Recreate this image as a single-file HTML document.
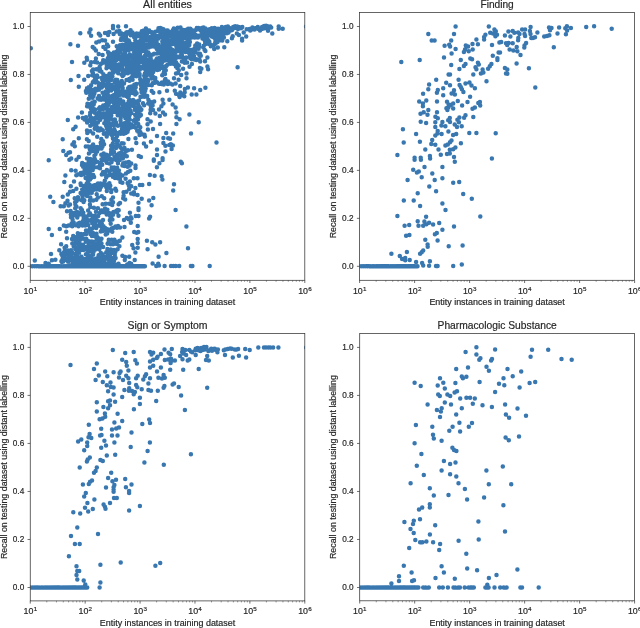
<!DOCTYPE html>
<html><head><meta charset="utf-8"><title>Scatter</title>
<style>html,body{margin:0;padding:0;background:#fff;}body{width:640px;height:628px;overflow:hidden;font-family:"Liberation Sans",sans-serif;}svg{display:block;will-change:transform;}</style></head>
<body>
<svg width="640" height="628" viewBox="0 0 640 628" font-family="Liberation Sans, sans-serif" fill="#262626">
<style>text{stroke:#262626;stroke-width:0.18px;}</style>
<rect width="640" height="628" fill="#fff"/>
<clipPath id="c0"><rect x="30.25" y="12.6" width="274.55" height="267.70"/></clipPath>
<path clip-path="url(#c0)" d="M80.3 33.3h0M90.5 29.4h0M89.3 32.5h0M91.1 35.7h0M70.4 44.2h0M78.0 45.7h0M98.8 33.7h0M100.2 35.5h0M105.0 33.1h0M108.2 32.5h0M108.1 34.9h0M109.4 31.9h0M113.0 25.9h0M113.0 28.3h0M118.2 26.5h0M113.6 33.9h0M116.6 31.5h0M119.4 31.1h0M119.8 33.9h0M96.3 42.5h0M99.1 41.5h0M102.2 40.2h0M105.0 40.4h0M113.0 41.7h0M92.7 47.0h0M94.3 48.6h0M95.9 50.6h0M107.0 44.6h0M103.4 47.0h0M105.4 49.0h0M108.2 46.2h0M98.7 54.0h0M102.6 55.0h0M86.7 57.8h0M87.1 59.8h0M95.9 58.6h0M126.0 26.3h0M200.2 54.2h0M207.4 57.4h0M214.2 49.0h0M217.8 47.4h0M243.7 32.5h0M236.9 33.5h0M238.9 35.1h0M246.2 36.4h0M232.7 36.3h0M231.9 38.3h0M242.1 38.7h0M242.1 40.6h0M227.3 41.2h0M224.3 47.3h0M278.7 26.4h0M278.7 28.8h0M282.7 28.8h0M268.0 30.7h0M272.3 33.6h0M306.1 26.6h0M237.6 67.3h0M72.0 62.0h0M84.3 62.8h0M78.5 75.9h0M70.8 79.9h0M84.2 79.8h0M78.8 86.7h0M88.2 75.9h0M90.3 65.2h0M165.4 79.1h0M163.4 73.9h0M165.8 70.3h0M167.0 90.7h0M159.4 92.2h0M162.6 99.8h0M169.4 99.8h0M163.4 103.4h0M161.4 106.2h0M159.0 109.4h0M167.8 83.9h0M140.5 96.8h0M181.9 61.6h0M184.7 62.8h0M187.1 62.4h0M191.9 64.0h0M189.5 66.8h0M183.1 68.8h0M177.2 68.0h0M178.8 70.3h0M178.0 73.1h0M176.0 73.5h0M181.2 75.1h0M186.5 73.4h0M186.5 78.3h0M174.0 78.2h0M178.6 79.7h0M200.2 61.6h0M205.0 61.2h0M199.9 68.0h0M201.4 68.8h0M200.2 72.1h0M207.4 66.4h0M208.1 69.2h0M196.3 60.0h0M175.6 83.5h0M172.4 84.5h0M170.0 83.5h0M180.2 85.9h0M187.9 87.5h0M184.9 89.1h0M194.1 88.3h0M205.4 87.7h0M200.2 89.9h0M174.8 90.7h0M176.0 93.8h0M180.3 92.6h0M184.7 92.2h0M178.8 95.0h0M181.9 95.0h0M184.3 96.2h0M179.6 97.0h0M191.7 94.5h0M196.4 94.5h0M172.6 104.4h0M175.6 107.6h0M81.9 112.4h0M75.6 126.7h0M73.2 129.3h0M78.8 138.3h0M74.0 142.2h0M72.4 144.6h0M74.8 146.2h0M78.8 157.0h0M76.4 159.8h0M70.0 152.2h0M71.2 158.6h0M150.2 113.2h0M155.4 113.6h0M159.8 116.0h0M163.0 112.4h0M165.0 114.6h0M153.0 110.0h0M147.5 119.2h0M150.7 121.5h0M147.5 124.2h0M160.1 123.9h0M147.9 129.5h0M153.0 129.1h0M157.0 136.1h0M166.2 133.1h0M163.4 137.9h0M168.2 138.3h0M150.9 141.7h0M163.4 143.0h0M165.4 145.8h0M169.4 145.0h0M143.9 143.4h0M146.1 146.5h0M136.3 143.0h0M135.5 138.3h0M128.4 139.1h0M157.0 149.4h0M165.5 151.6h0M157.0 155.0h0M138.7 156.0h0M140.9 157.1h0M162.6 158.2h0M153.8 159.4h0M131.9 149.8h0M176.4 112.4h0M189.4 114.5h0M176.4 117.2h0M179.6 119.2h0M198.7 122.3h0M176.4 124.0h0M173.2 133.4h0M191.0 133.4h0M170.0 138.7h0M216.5 142.5h0M170.8 144.2h0M172.9 145.5h0M171.6 149.0h0M180.8 161.8h0M181.9 163.3h0M174.0 184.2h0M173.2 190.4h0M175.6 210.0h0M115.4 188.7h0M116.2 190.7h0M113.0 197.4h0M111.4 199.8h0M102.6 204.2h0M105.8 203.8h0M109.4 203.8h0M112.2 205.0h0M113.0 202.2h0M118.6 204.2h0M120.0 203.0h0M104.2 198.2h0M101.8 196.2h0M97.9 197.4h0M96.7 194.2h0M96.3 199.8h0M93.1 200.6h0M90.3 197.4h0M89.9 200.6h0M89.9 204.6h0M90.3 207.0h0M93.9 207.8h0M97.9 208.2h0M105.0 208.6h0M107.4 209.8h0M117.8 210.0h0M71.2 170.3h0M75.6 170.8h0M74.0 181.5h0M70.8 186.3h0M76.4 188.7h0M73.2 191.1h0M70.0 191.8h0M70.0 204.6h0M123.2 163.2h0M126.0 162.4h0M128.8 162.0h0M131.2 163.6h0M124.4 166.0h0M127.6 166.8h0M129.6 165.6h0M122.4 165.6h0M135.5 165.6h0M135.5 168.0h0M130.3 170.8h0M128.0 171.9h0M126.0 173.5h0M122.4 175.5h0M120.0 174.3h0M125.6 178.7h0M120.0 179.1h0M122.4 182.7h0M120.4 181.9h0M133.8 178.2h0M137.5 178.2h0M149.9 174.9h0M154.6 175.7h0M161.6 176.3h0M162.4 179.5h0M153.8 160.8h0M159.4 163.2h0M156.9 167.3h0M162.6 160.0h0M139.9 184.9h0M142.3 184.9h0M149.1 184.1h0M129.9 181.5h0M127.6 183.1h0M128.8 185.5h0M131.2 186.3h0M129.2 189.1h0M135.4 187.9h0M123.6 192.2h0M126.4 191.8h0M131.2 193.4h0M133.9 192.2h0M133.9 194.2h0M137.5 195.0h0M123.6 195.8h0M123.2 198.2h0M125.2 199.4h0M141.7 198.8h0M138.5 202.8h0M138.5 208.2h0M153.3 198.1h0M149.1 200.4h0M151.6 205.2h0M89.5 213.6h0M103.8 229.5h0M109.8 220.3h0M110.6 218.0h0M114.2 251.4h0M109.0 252.6h0M119.4 246.2h0M119.8 240.7h0M113.0 244.2h0M94.3 235.9h0M129.9 212.8h0M135.8 216.0h0M138.5 216.0h0M130.8 217.2h0M126.8 218.0h0M124.0 219.9h0M128.8 219.2h0M131.5 218.4h0M130.8 222.7h0M150.1 216.8h0M149.1 218.4h0M120.0 227.5h0M124.5 226.9h0M137.7 225.9h0M134.2 232.1h0M136.7 232.7h0M138.3 232.1h0M122.4 237.5h0M137.7 239.1h0M137.7 243.0h0M146.9 240.7h0M152.2 242.2h0M155.4 244.6h0M160.1 242.2h0M132.2 245.0h0M133.5 248.2h0M137.7 247.8h0M147.6 249.2h0M135.4 252.4h0M166.4 253.0h0M122.4 255.8h0M125.2 257.0h0M129.2 256.8h0M158.6 256.8h0M134.7 260.0h0M124.8 260.0h0M138.5 210.0h0M114.2 260.3h0M109.0 262.7h0M113.0 262.3h0M30.8 48.2h0M67.8 120.0h0M62.7 139.3h0M63.3 151.1h0M68.6 152.7h0M66.2 154.9h0M48.7 160.3h0M69.4 159.7h0M65.4 175.6h0M64.3 182.0h0M50.2 196.8h0M62.7 196.8h0M53.4 202.0h0M60.6 206.3h0M63.8 206.3h0M67.5 200.8h0M65.4 203.2h0M68.6 205.5h0M67.8 194.4h0M67.0 211.2h0M48.7 229.1h0M51.9 235.0h0M59.8 229.1h0M63.8 225.5h0M66.2 226.3h0M68.6 225.5h0M66.2 231.8h0M67.0 238.2h0M61.1 244.3h0M66.2 246.2h0M64.6 247.8h0M59.3 250.2h0M51.0 254.1h0M61.4 254.1h0M63.0 257.3h0M67.8 254.1h0M68.6 251.0h0M34.8 260.5h0M45.5 262.9h0M51.9 260.2h0M55.4 259.7h0M61.4 261.3h0M65.4 259.7h0M68.6 258.9h0M48.7 263.7h0M186.4 226.6h0M188.0 248.2h0M129.6 262.9h0M131.2 263.7h0M127.2 264.5h0M152.6 263.4h0M156.3 266.1h0M158.2 263.7h0M159.0 265.6h0M164.6 266.1h0M171.0 266.1h0M173.3 266.1h0M175.7 266.1h0M179.2 266.1h0M190.9 266.1h0M192.4 266.1h0M209.7 266.1h0M30.2 266.3h0M32.5 266.3h0M34.6 266.3h0M36.5 266.3h0M38.3 266.3h0M39.9 266.3h0M41.5 266.3h0M42.9 266.3h0M44.3 266.3h0M45.6 266.3h0M46.8 266.3h0M47.9 266.3h0M49.0 266.3h0M50.1 266.3h0M51.1 266.3h0M52.1 266.3h0M53.0 266.3h0M53.9 266.3h0M54.8 266.3h0M55.6 266.3h0M56.5 266.3h0M57.2 266.3h0M58.0 266.3h0M58.7 266.3h0M59.4 266.3h0M60.8 266.3h0M62.1 266.3h0M63.3 266.3h0M64.5 266.3h0M65.6 266.3h0M66.6 266.3h0M67.7 266.3h0M68.6 266.3h0M69.6 266.3h0M70.5 266.3h0M71.3 266.3h0M72.2 266.3h0M73.0 266.3h0M73.8 266.3h0M74.5 266.3h0M75.2 266.3h0M76.0 266.3h0M77.0 266.3h0M78.0 266.3h0M78.9 266.3h0M79.8 266.3h0M80.7 266.3h0M81.6 266.3h0M82.4 266.3h0M83.2 266.3h0M83.9 266.3h0M84.7 266.3h0M85.4 266.3h0M86.3 266.3h0M87.2 266.3h0M88.1 266.3h0M88.9 266.3h0M89.7 266.3h0M90.5 266.3h0M91.2 266.3h0M92.0 266.3h0M92.7 266.3h0M93.5 266.3h0M94.3 266.3h0M95.2 266.3h0M95.9 266.3h0M96.7 266.3h0M97.4 266.3h0M98.1 266.3h0M98.9 266.3h0M99.7 266.3h0M100.5 266.3h0M101.2 266.3h0M101.9 266.3h0M102.7 266.3h0M103.5 266.3h0M104.3 266.3h0M105.0 266.3h0M105.7 266.3h0M106.5 266.3h0M107.3 266.3h0M108.0 266.3h0M108.8 266.3h0M109.5 266.3h0M110.3 266.3h0M111.0 266.3h0M111.8 266.3h0M112.5 266.3h0M113.3 266.3h0M114.0 266.3h0M114.7 266.3h0M115.4 266.3h0M116.2 266.3h0M116.9 266.3h0M117.6 266.3h0M118.3 266.3h0M119.0 266.3h0M119.8 266.3h0M120.5 266.3h0M121.2 266.3h0M122.0 266.3h0M122.7 266.3h0M123.4 266.3h0M124.1 266.3h0M124.8 266.3h0M125.5 266.3h0M126.3 266.3h0M127.0 266.3h0M127.7 266.3h0M128.4 266.3h0M129.2 266.3h0M129.9 266.3h0M130.6 266.3h0M131.3 266.3h0M132.0 266.3h0M132.8 266.3h0M133.5 266.3h0M134.2 266.3h0M134.9 266.3h0M135.6 266.3h0M136.3 266.3h0M137.0 266.3h0M137.7 266.3h0M138.5 266.3h0M139.2 266.3h0M139.9 266.3h0M140.6 266.3h0M141.3 266.3h0M142.0 266.3h0M142.7 266.3h0M143.4 266.3h0M144.2 266.3h0M144.9 266.3h0M120.0 45.2h0M116.7 46.3h0M117.9 47.4h0M118.0 48.9h0M119.2 49.1h0M116.6 51.8h0M118.0 50.1h0M108.1 52.3h0M109.7 53.6h0M112.8 53.8h0M113.9 52.6h0M116.5 52.5h0M108.8 54.4h0M110.4 55.5h0M113.3 54.8h0M115.6 56.0h0M118.1 55.3h0M107.8 58.2h0M109.2 56.6h0M113.0 58.2h0M114.7 56.5h0M118.0 57.1h0M108.4 59.4h0M110.1 59.7h0M113.5 59.0h0M116.4 60.0h0M118.4 58.9h0M145.9 28.4h0M158.5 28.2h0M160.2 28.0h0M162.1 28.8h0M130.6 30.3h0M143.8 30.6h0M144.5 30.5h0M148.3 30.4h0M149.2 30.5h0M158.4 29.3h0M160.9 30.4h0M163.4 29.3h0M166.7 30.4h0M167.7 30.6h0M126.3 32.5h0M127.5 32.3h0M130.4 32.4h0M132.5 32.6h0M141.8 31.3h0M144.1 31.9h0M146.5 32.6h0M147.9 32.5h0M151.0 32.0h0M153.7 32.5h0M155.4 31.8h0M158.8 31.1h0M160.5 32.1h0M161.7 32.1h0M165.2 32.7h0M166.8 32.8h0M169.5 31.9h0M120.7 33.1h0M122.7 34.1h0M124.3 34.5h0M126.7 33.9h0M131.0 33.8h0M133.7 34.0h0M136.7 33.5h0M139.0 33.7h0M140.7 33.5h0M143.0 34.8h0M145.6 34.4h0M147.3 33.6h0M152.4 34.4h0M153.7 34.3h0M160.5 33.3h0M164.5 34.1h0M166.3 34.4h0M169.0 34.1h0M123.8 36.1h0M126.1 35.4h0M130.8 35.2h0M132.1 35.1h0M135.4 36.6h0M137.5 35.7h0M140.1 36.4h0M142.0 35.5h0M143.8 35.8h0M146.1 35.8h0M152.5 35.2h0M156.2 36.0h0M158.7 35.8h0M159.4 35.7h0M162.7 36.7h0M165.7 35.9h0M167.0 35.2h0M169.7 35.4h0M121.4 38.2h0M123.9 38.7h0M126.2 38.5h0M134.2 37.3h0M135.3 38.4h0M143.2 38.3h0M145.2 38.7h0M147.2 38.7h0M150.3 37.0h0M151.3 38.2h0M155.1 37.1h0M156.5 38.3h0M158.5 38.5h0M161.4 37.1h0M163.5 38.0h0M165.9 38.2h0M167.7 38.4h0M120.9 40.1h0M123.7 39.7h0M125.5 40.4h0M128.8 40.4h0M135.3 40.5h0M140.4 40.5h0M142.0 39.5h0M144.0 40.6h0M146.2 40.2h0M148.9 40.6h0M151.6 39.5h0M152.4 39.5h0M155.5 40.0h0M163.1 40.5h0M165.0 39.5h0M167.8 40.4h0M169.8 40.6h0M127.7 41.4h0M129.4 42.2h0M136.6 41.8h0M137.7 42.4h0M141.2 41.4h0M143.1 42.6h0M149.3 41.3h0M151.6 42.2h0M154.2 42.0h0M156.6 41.9h0M162.3 41.6h0M163.0 42.1h0M166.5 41.2h0M168.5 41.6h0M122.6 44.7h0M126.4 43.8h0M128.2 43.4h0M130.8 43.7h0M133.4 44.3h0M135.5 44.7h0M136.8 43.0h0M139.0 43.3h0M141.1 43.0h0M144.2 44.5h0M146.4 44.7h0M149.5 43.1h0M151.2 43.7h0M152.7 44.7h0M155.2 44.0h0M158.2 44.7h0M162.5 43.2h0M165.7 44.8h0M166.7 43.0h0M169.0 43.6h0M120.7 46.6h0M122.9 45.0h0M125.1 46.2h0M127.2 46.7h0M128.4 45.2h0M134.1 45.5h0M136.3 46.3h0M137.7 45.5h0M140.3 45.2h0M143.0 45.3h0M144.8 45.2h0M147.9 45.0h0M150.3 45.3h0M151.4 46.6h0M154.0 46.6h0M157.5 46.5h0M158.4 45.8h0M160.7 46.6h0M164.3 46.1h0M165.9 45.6h0M168.9 45.8h0M121.4 47.2h0M123.0 47.0h0M126.1 47.9h0M127.4 48.5h0M129.9 47.7h0M132.0 47.4h0M135.6 47.5h0M136.7 47.8h0M139.2 48.6h0M141.2 48.7h0M143.3 48.6h0M146.8 47.3h0M148.7 47.5h0M156.6 48.6h0M157.2 47.5h0M161.0 47.0h0M163.0 47.5h0M165.7 47.0h0M167.7 47.6h0M168.8 47.0h0M120.6 49.9h0M121.7 49.7h0M125.3 49.3h0M127.0 49.2h0M128.6 50.3h0M131.9 49.3h0M133.0 49.1h0M136.3 49.8h0M138.0 49.3h0M140.9 50.2h0M143.6 50.0h0M144.8 49.0h0M156.8 49.0h0M159.8 49.8h0M162.1 49.4h0M163.1 50.4h0M165.8 49.2h0M168.1 50.0h0M120.3 51.9h0M125.1 52.2h0M134.2 52.5h0M138.1 51.8h0M139.6 51.9h0M141.9 51.0h0M145.0 51.3h0M145.9 51.1h0M148.3 52.4h0M158.1 51.9h0M160.6 51.1h0M163.2 52.2h0M164.0 51.1h0M167.1 51.8h0M169.1 51.1h0M122.5 54.5h0M124.0 54.0h0M129.8 54.6h0M134.4 53.9h0M135.9 54.6h0M138.9 53.5h0M140.2 53.5h0M145.8 54.6h0M148.2 54.5h0M149.1 53.9h0M153.0 54.6h0M154.1 53.7h0M157.0 53.6h0M159.2 53.0h0M161.3 53.8h0M162.8 53.2h0M166.8 54.3h0M169.1 54.1h0M121.7 56.5h0M124.1 55.0h0M126.0 55.4h0M128.4 55.4h0M130.4 56.6h0M132.9 55.4h0M135.0 55.7h0M138.1 55.4h0M139.2 56.1h0M145.0 55.8h0M148.8 55.2h0M150.4 55.1h0M162.7 56.1h0M164.3 56.2h0M167.1 55.9h0M169.7 55.8h0M121.8 57.8h0M124.4 58.0h0M126.0 57.5h0M129.8 57.3h0M131.6 57.8h0M133.4 58.7h0M135.7 58.3h0M137.8 57.0h0M141.4 57.7h0M142.2 57.6h0M145.2 58.2h0M150.7 58.2h0M157.0 58.4h0M159.7 57.8h0M161.8 58.2h0M164.2 57.8h0M166.5 58.2h0M169.1 57.1h0M121.8 58.9h0M123.9 60.0h0M128.2 59.6h0M132.8 59.6h0M137.7 59.4h0M139.3 59.9h0M141.6 59.5h0M146.4 59.7h0M148.2 59.4h0M150.4 59.9h0M156.4 59.5h0M161.1 59.3h0M164.0 59.0h0M167.3 59.8h0M173.8 28.5h0M177.7 27.8h0M180.5 27.6h0M188.1 28.7h0M190.2 28.8h0M196.8 28.1h0M198.4 28.1h0M201.9 27.9h0M203.6 27.6h0M205.4 28.6h0M211.8 28.2h0M214.6 28.1h0M173.0 30.0h0M173.9 30.6h0M176.5 29.2h0M181.5 30.0h0M183.3 30.1h0M185.4 29.9h0M188.6 29.2h0M190.5 29.1h0M192.9 30.6h0M195.4 30.3h0M198.1 29.2h0M200.8 30.3h0M201.5 30.5h0M204.3 29.3h0M207.6 30.0h0M209.6 29.3h0M211.9 29.1h0M213.2 29.7h0M215.1 30.1h0M217.8 29.6h0M171.5 31.8h0M176.4 32.0h0M178.8 32.6h0M179.8 32.4h0M182.4 32.4h0M185.3 32.5h0M186.6 31.7h0M190.0 32.7h0M192.2 31.1h0M194.3 31.2h0M201.4 31.5h0M202.8 31.8h0M206.3 32.1h0M207.2 31.1h0M209.6 32.5h0M212.0 32.0h0M214.5 32.2h0M216.9 31.3h0M170.3 34.5h0M173.1 33.0h0M176.9 34.6h0M179.7 33.1h0M180.9 34.5h0M184.1 33.7h0M186.1 33.3h0M189.0 33.7h0M191.4 34.1h0M192.2 33.6h0M194.8 34.6h0M202.1 34.0h0M204.3 33.6h0M205.9 34.0h0M208.8 33.0h0M211.3 34.8h0M212.9 33.3h0M216.3 33.5h0M217.9 33.9h0M170.7 36.0h0M173.5 36.7h0M176.6 35.0h0M178.2 36.4h0M181.0 36.4h0M182.9 36.1h0M184.7 35.5h0M187.8 36.6h0M190.3 36.2h0M191.5 36.4h0M194.6 35.9h0M196.7 35.6h0M198.8 35.7h0M200.3 35.6h0M203.0 36.8h0M205.6 35.6h0M207.5 35.4h0M210.0 35.2h0M211.7 36.6h0M214.8 35.8h0M217.3 35.5h0M218.8 35.1h0M172.7 38.0h0M175.4 37.6h0M177.7 38.0h0M178.4 37.3h0M181.6 38.8h0M183.5 38.4h0M186.0 38.5h0M187.6 37.9h0M191.4 37.5h0M192.6 37.0h0M194.7 37.5h0M198.0 37.4h0M202.4 38.5h0M204.8 37.3h0M207.2 38.7h0M213.4 37.2h0M215.4 38.0h0M219.0 38.1h0M171.9 39.4h0M173.1 40.3h0M176.0 39.7h0M178.4 39.6h0M179.6 39.7h0M187.4 39.4h0M189.5 39.0h0M203.8 39.1h0M206.2 39.7h0M208.0 40.0h0M215.3 39.4h0M217.5 40.4h0M219.9 39.5h0M170.5 42.7h0M172.2 41.5h0M174.6 42.7h0M176.2 41.0h0M179.2 42.1h0M182.0 41.6h0M187.6 41.2h0M189.9 41.9h0M205.0 41.4h0M207.7 41.9h0M209.3 41.6h0M215.3 42.3h0M217.5 42.1h0M171.0 44.5h0M172.7 44.0h0M175.6 44.6h0M178.8 44.1h0M179.8 43.4h0M182.2 43.7h0M184.5 43.3h0M187.7 44.1h0M189.2 44.8h0M197.1 43.4h0M199.2 44.4h0M205.0 44.2h0M208.1 43.8h0M210.4 44.5h0M214.6 44.4h0M176.3 46.3h0M178.5 45.3h0M181.8 45.1h0M183.5 46.6h0M186.5 46.5h0M189.3 45.0h0M195.3 45.4h0M197.5 45.1h0M199.0 46.7h0M203.8 45.8h0M210.8 46.3h0M213.7 45.1h0M170.6 48.7h0M177.6 47.1h0M179.5 47.9h0M182.5 48.0h0M184.7 47.0h0M187.6 48.1h0M194.8 48.2h0M196.3 47.5h0M198.6 48.7h0M203.2 47.2h0M170.3 49.5h0M172.6 49.9h0M174.3 50.7h0M176.0 50.3h0M179.8 49.9h0M181.7 50.7h0M183.3 50.1h0M186.5 49.6h0M188.8 49.6h0M190.8 50.0h0M193.3 49.5h0M195.5 49.9h0M204.5 49.8h0M171.7 52.5h0M174.1 51.0h0M175.5 52.4h0M178.6 51.1h0M181.9 51.6h0M185.5 51.9h0M187.2 51.1h0M189.4 52.7h0M192.2 51.7h0M194.1 52.4h0M205.4 51.0h0M172.8 54.0h0M174.4 53.0h0M181.3 54.1h0M189.2 53.3h0M191.6 54.2h0M192.8 54.1h0M198.1 53.6h0M199.9 53.8h0M171.0 55.0h0M173.8 55.9h0M176.2 56.3h0M179.6 56.4h0M181.9 55.1h0M189.9 55.8h0M191.1 56.2h0M194.0 56.0h0M199.4 55.2h0M200.8 55.8h0M172.4 57.6h0M174.5 57.8h0M177.1 57.6h0M179.7 57.3h0M183.0 57.5h0M186.2 57.6h0M190.3 58.3h0M192.6 58.2h0M171.8 59.2h0M174.2 59.3h0M175.0 59.1h0M185.3 59.2h0M191.5 59.3h0M194.3 59.5h0M196.6 59.2h0M199.5 59.5h0M221.9 27.1h0M225.8 27.0h0M227.9 26.5h0M233.2 26.9h0M235.2 26.3h0M237.2 26.6h0M238.8 27.1h0M242.3 27.0h0M257.8 26.9h0M262.1 26.9h0M264.2 26.1h0M215.1 28.7h0M218.0 28.8h0M220.0 29.1h0M221.8 28.7h0M222.7 27.8h0M224.7 29.0h0M228.1 28.6h0M229.4 28.1h0M231.3 28.6h0M234.9 28.0h0M235.3 27.7h0M238.0 29.0h0M240.9 28.2h0M241.8 27.6h0M246.7 29.2h0M249.6 28.9h0M250.9 28.9h0M252.4 27.6h0M255.3 28.3h0M256.8 27.9h0M258.6 29.1h0M261.9 29.1h0M264.5 28.2h0M216.5 29.9h0M218.7 30.8h0M219.6 29.3h0M221.9 30.3h0M224.3 29.3h0M227.2 30.7h0M228.7 29.3h0M231.6 30.2h0M232.2 29.8h0M250.2 30.5h0M251.9 29.4h0M254.6 29.4h0M260.0 30.4h0M215.2 31.2h0M216.7 32.9h0M218.7 31.8h0M221.9 32.6h0M223.7 32.4h0M224.8 31.3h0M228.6 32.5h0M229.0 31.2h0M216.1 33.5h0M218.0 32.9h0M220.7 33.0h0M223.0 34.4h0M224.4 33.1h0M226.9 33.3h0M216.5 36.5h0M219.1 36.0h0M220.9 35.3h0M223.2 35.3h0M215.3 37.0h0M217.8 38.2h0M219.4 37.1h0M222.8 38.4h0M223.9 37.4h0M215.6 38.5h0M217.7 38.8h0M219.9 39.9h0M221.7 38.9h0M222.6 38.8h0M216.7 40.3h0M219.8 40.3h0M222.3 40.5h0M215.9 43.0h0M216.5 42.1h0M266.1 25.7h0M267.7 26.3h0M270.2 26.4h0M266.3 27.4h0M267.9 27.6h0M269.6 27.7h0M271.2 27.6h0M103.2 60.2h0M106.0 60.8h0M108.7 60.1h0M113.8 60.3h0M91.1 62.2h0M94.8 62.1h0M97.2 62.4h0M102.2 63.0h0M105.2 62.1h0M106.9 61.6h0M110.2 62.7h0M112.3 61.5h0M114.7 62.6h0M100.8 64.0h0M106.4 64.1h0M108.6 65.1h0M110.6 64.7h0M113.3 65.2h0M116.9 65.3h0M118.7 64.5h0M99.6 67.1h0M106.9 66.4h0M109.7 67.0h0M112.0 66.2h0M115.8 67.2h0M118.4 67.2h0M93.1 69.4h0M96.3 69.3h0M98.9 69.8h0M100.1 69.7h0M106.5 68.2h0M111.6 68.6h0M113.6 68.5h0M118.6 69.4h0M91.9 71.0h0M99.4 70.8h0M101.4 71.7h0M112.9 71.6h0M115.4 71.3h0M117.2 71.5h0M93.0 73.2h0M103.4 74.3h0M109.5 73.8h0M113.3 72.8h0M118.2 73.3h0M92.2 75.3h0M94.2 76.0h0M97.0 75.5h0M104.2 75.7h0M107.7 75.7h0M109.9 75.9h0M112.4 76.5h0M95.2 78.2h0M97.5 77.1h0M101.6 77.9h0M103.4 78.7h0M106.6 77.3h0M109.0 77.6h0M111.2 77.5h0M94.2 80.8h0M96.2 80.6h0M102.1 79.3h0M105.0 80.6h0M106.8 79.6h0M110.4 80.1h0M111.6 79.7h0M115.9 79.7h0M117.3 80.0h0M92.8 82.3h0M95.5 82.5h0M97.6 82.5h0M103.0 82.4h0M108.2 82.6h0M114.7 82.2h0M116.5 82.0h0M118.6 82.3h0M91.1 85.3h0M99.8 83.8h0M102.2 85.0h0M105.3 85.0h0M107.7 83.9h0M109.8 84.6h0M111.7 85.0h0M117.2 83.9h0M88.8 87.2h0M90.5 86.5h0M98.9 86.0h0M101.7 87.4h0M102.6 86.2h0M106.8 87.3h0M108.3 87.3h0M111.4 86.3h0M114.1 86.6h0M115.7 87.4h0M119.3 86.3h0M87.0 88.3h0M88.8 88.3h0M91.9 89.9h0M95.3 88.8h0M97.8 89.3h0M98.9 89.7h0M107.4 89.0h0M109.4 89.0h0M113.0 89.1h0M115.9 89.1h0M118.4 88.3h0M85.9 91.1h0M87.6 91.0h0M90.0 91.8h0M93.7 92.1h0M96.1 90.6h0M105.7 91.5h0M107.9 91.9h0M111.1 90.6h0M116.1 91.2h0M118.2 91.0h0M86.3 92.8h0M90.0 92.8h0M92.2 94.0h0M94.4 93.6h0M102.6 92.8h0M104.7 92.9h0M107.3 93.7h0M115.8 93.6h0M117.9 93.9h0M90.2 95.5h0M93.5 95.9h0M99.0 96.1h0M103.8 96.4h0M106.5 95.9h0M107.8 94.8h0M111.6 96.3h0M113.6 95.2h0M116.3 96.3h0M119.4 95.0h0M88.8 98.8h0M92.5 97.8h0M97.7 98.3h0M99.7 97.9h0M102.6 98.1h0M105.6 97.3h0M108.1 98.4h0M109.8 98.5h0M112.1 97.7h0M115.2 98.8h0M117.2 98.5h0M99.2 99.5h0M101.1 99.8h0M104.0 99.4h0M106.4 99.7h0M109.5 99.8h0M111.5 99.3h0M114.6 100.4h0M117.1 100.6h0M118.2 100.6h0M92.3 102.6h0M94.7 101.7h0M107.0 102.4h0M109.1 102.9h0M113.0 102.0h0M114.2 103.1h0M118.2 102.9h0M87.5 103.8h0M90.8 104.0h0M93.7 104.5h0M103.2 105.4h0M105.8 104.8h0M108.2 105.0h0M114.2 105.2h0M115.7 104.0h0M118.4 105.1h0M87.1 106.3h0M89.6 106.7h0M91.1 106.1h0M99.9 107.3h0M102.8 107.0h0M104.8 106.2h0M106.9 106.1h0M112.1 107.0h0M115.7 106.4h0M118.4 107.5h0M91.0 109.1h0M92.9 108.5h0M95.1 109.5h0M99.1 108.2h0M100.4 109.1h0M103.1 109.1h0M106.1 108.7h0M108.0 108.9h0M111.8 108.4h0M113.9 109.6h0M116.5 108.8h0M119.7 109.6h0M125.4 60.2h0M127.3 60.0h0M137.6 60.1h0M146.1 60.4h0M149.4 60.9h0M164.8 60.5h0M168.3 60.4h0M121.4 61.5h0M123.6 62.7h0M126.5 62.2h0M128.6 61.5h0M130.0 62.7h0M132.3 61.6h0M135.4 62.4h0M138.3 62.7h0M141.1 61.7h0M142.3 61.4h0M144.8 61.4h0M148.3 62.2h0M149.9 61.3h0M153.0 61.6h0M155.2 61.5h0M156.7 61.4h0M159.5 61.7h0M162.0 62.5h0M122.8 64.4h0M125.1 64.4h0M127.2 63.6h0M130.3 64.2h0M131.9 63.7h0M134.1 65.0h0M136.6 64.7h0M138.5 64.3h0M143.6 64.0h0M146.6 64.0h0M149.3 63.5h0M151.7 64.0h0M154.0 64.0h0M155.4 64.8h0M160.7 64.5h0M167.5 64.8h0M121.8 66.9h0M126.8 65.7h0M127.8 65.6h0M130.4 66.1h0M132.9 66.1h0M134.7 65.9h0M137.9 65.4h0M140.3 66.9h0M143.0 67.0h0M145.8 66.2h0M146.7 65.4h0M150.0 66.8h0M152.0 65.5h0M155.2 66.3h0M157.0 65.5h0M159.6 66.3h0M162.2 66.9h0M163.5 66.8h0M166.3 66.1h0M122.3 67.7h0M127.0 68.2h0M128.7 67.6h0M132.7 68.4h0M135.2 68.4h0M137.6 68.6h0M138.9 67.5h0M140.9 68.8h0M144.2 67.9h0M145.7 68.5h0M149.5 67.8h0M152.0 68.3h0M153.0 67.7h0M157.7 67.8h0M160.0 67.8h0M162.6 68.1h0M165.0 68.6h0M121.0 69.8h0M122.8 69.6h0M125.1 70.7h0M127.6 70.3h0M131.5 70.6h0M132.8 70.2h0M135.4 70.0h0M137.1 69.7h0M139.7 69.8h0M145.3 69.8h0M147.5 70.7h0M149.9 70.8h0M152.8 70.3h0M154.2 69.5h0M157.4 70.1h0M159.1 69.6h0M164.2 71.0h0M123.2 72.4h0M124.7 73.2h0M127.8 73.2h0M129.9 71.9h0M131.2 71.6h0M135.1 72.5h0M137.4 73.2h0M138.7 73.3h0M147.1 72.2h0M148.7 73.0h0M151.6 73.1h0M153.2 72.0h0M163.8 72.6h0M121.5 74.4h0M123.6 75.1h0M132.7 74.4h0M138.3 73.6h0M139.6 73.9h0M144.8 73.7h0M147.7 74.7h0M149.8 74.1h0M152.0 74.0h0M162.2 75.2h0M165.0 73.9h0M122.6 75.9h0M131.6 77.3h0M136.4 76.2h0M139.6 75.7h0M144.2 75.8h0M145.5 77.1h0M151.4 76.9h0M153.1 76.9h0M129.2 79.1h0M130.5 79.2h0M132.4 77.8h0M140.2 79.3h0M144.8 77.8h0M147.4 79.5h0M151.6 78.5h0M155.3 78.0h0M121.8 81.0h0M126.5 80.0h0M129.5 80.8h0M132.6 79.8h0M141.8 81.0h0M144.1 80.2h0M146.6 81.6h0M148.0 81.3h0M155.3 80.2h0M164.9 80.1h0M168.0 81.5h0M121.1 82.9h0M124.0 83.4h0M140.2 83.1h0M143.5 82.7h0M145.3 82.6h0M152.7 83.3h0M155.0 82.7h0M156.9 82.2h0M159.0 83.7h0M162.0 82.6h0M164.3 82.8h0M166.3 82.6h0M120.7 84.5h0M122.3 84.4h0M134.3 84.8h0M136.4 84.1h0M140.8 85.0h0M143.4 84.9h0M146.7 84.0h0M148.7 85.1h0M151.8 85.2h0M161.4 84.0h0M163.8 84.6h0M120.3 86.1h0M129.2 86.9h0M131.4 86.5h0M133.1 86.5h0M135.7 87.3h0M141.9 86.3h0M145.4 87.8h0M122.7 88.1h0M128.1 88.3h0M129.8 89.1h0M131.3 89.8h0M134.5 89.2h0M141.0 89.0h0M143.7 89.5h0M145.7 88.5h0M120.7 91.6h0M124.3 91.5h0M125.8 91.7h0M129.2 90.5h0M131.1 90.5h0M134.0 91.6h0M135.4 91.5h0M142.7 91.7h0M145.2 90.7h0M151.7 91.0h0M122.6 92.9h0M125.2 93.4h0M126.4 92.3h0M129.6 93.3h0M132.1 92.7h0M134.1 93.5h0M136.6 93.2h0M141.5 92.2h0M144.4 93.7h0M153.3 92.8h0M123.3 95.5h0M126.2 96.0h0M128.9 95.5h0M135.2 94.5h0M143.4 94.9h0M144.6 95.3h0M147.2 96.1h0M127.7 97.1h0M140.8 96.9h0M144.2 96.7h0M146.3 96.6h0M120.3 99.4h0M129.3 99.6h0M133.1 100.1h0M148.4 99.7h0M120.8 101.5h0M123.2 101.4h0M128.7 101.3h0M131.3 101.0h0M135.0 102.2h0M136.1 101.6h0M139.1 100.6h0M148.9 100.9h0M151.2 102.2h0M154.2 101.6h0M121.1 103.4h0M123.4 103.1h0M126.2 104.2h0M127.8 103.8h0M130.8 103.8h0M133.4 103.3h0M134.7 103.2h0M138.0 103.7h0M143.0 103.2h0M148.2 103.5h0M149.8 103.8h0M152.4 104.4h0M123.2 106.3h0M124.0 106.2h0M127.3 106.5h0M129.5 105.5h0M131.1 105.7h0M133.9 106.3h0M138.8 106.1h0M144.1 105.3h0M150.8 106.2h0M152.6 105.6h0M120.9 108.5h0M123.4 107.5h0M126.4 106.9h0M127.6 108.3h0M136.4 107.5h0M138.3 107.6h0M139.8 107.3h0M124.1 109.5h0M126.6 109.0h0M129.6 109.3h0M134.8 109.7h0M137.0 109.4h0M139.1 109.8h0M141.4 109.6h0M150.6 109.7h0M173.0 60.1h0M170.5 62.5h0M174.6 62.2h0M176.0 62.2h0M170.6 63.7h0M173.2 63.7h0M175.7 63.5h0M177.7 64.4h0M175.9 66.5h0M178.8 65.8h0M91.8 110.6h0M99.6 110.8h0M109.1 110.2h0M111.4 110.7h0M114.8 110.5h0M118.2 110.9h0M90.2 112.7h0M93.1 111.8h0M94.8 112.7h0M98.7 112.4h0M100.6 113.3h0M103.6 113.3h0M106.9 113.0h0M110.5 112.1h0M113.0 112.1h0M116.4 112.2h0M119.4 112.2h0M90.0 115.3h0M96.8 115.0h0M99.7 114.6h0M103.0 115.5h0M105.0 115.9h0M108.4 115.1h0M111.3 115.5h0M117.7 115.2h0M78.1 117.4h0M82.8 117.9h0M86.0 117.2h0M90.3 118.5h0M92.4 118.3h0M95.7 117.4h0M97.7 117.9h0M100.8 118.2h0M104.6 117.3h0M107.9 118.6h0M110.3 118.6h0M84.5 119.5h0M88.3 120.7h0M90.3 121.1h0M94.6 121.1h0M100.3 119.7h0M105.6 120.0h0M108.1 120.9h0M112.3 119.5h0M114.9 119.5h0M87.1 122.6h0M91.7 122.3h0M95.5 123.1h0M97.9 122.4h0M104.3 123.2h0M106.7 122.1h0M109.6 123.5h0M113.7 122.3h0M116.0 122.6h0M90.3 125.7h0M93.9 124.8h0M96.2 125.5h0M106.2 125.9h0M108.7 125.0h0M112.5 124.7h0M114.3 125.0h0M118.0 125.8h0M94.7 128.7h0M97.5 127.9h0M100.6 128.6h0M107.1 129.0h0M109.9 127.8h0M114.2 128.9h0M87.0 130.4h0M90.3 131.2h0M97.7 130.2h0M99.3 130.5h0M102.8 130.2h0M108.5 130.2h0M111.5 130.5h0M115.1 131.2h0M87.3 132.9h0M93.1 133.6h0M103.8 133.8h0M106.6 133.0h0M110.3 133.7h0M113.4 133.9h0M116.7 133.1h0M119.4 133.1h0M97.2 136.7h0M106.7 136.6h0M112.1 135.5h0M117.1 136.1h0M86.9 139.2h0M101.3 138.9h0M112.9 138.5h0M115.8 138.2h0M88.7 140.9h0M103.0 141.3h0M114.0 140.4h0M117.9 141.0h0M93.1 144.5h0M100.7 142.8h0M104.1 144.2h0M112.8 143.6h0M117.1 143.6h0M85.8 146.4h0M88.0 146.5h0M91.2 146.4h0M93.5 145.7h0M97.1 147.0h0M100.6 146.2h0M102.5 146.4h0M111.1 145.7h0M114.8 146.4h0M118.7 145.5h0M89.8 149.3h0M92.2 148.6h0M96.2 148.1h0M98.9 148.8h0M101.5 148.4h0M111.1 149.4h0M112.5 148.2h0M116.0 148.0h0M90.9 151.4h0M94.3 150.9h0M97.1 151.4h0M111.1 152.0h0M114.0 152.0h0M88.9 153.4h0M95.6 154.1h0M101.3 154.7h0M103.7 153.6h0M106.5 154.8h0M111.0 153.8h0M117.1 154.7h0M119.0 153.6h0M94.4 155.8h0M102.8 156.2h0M105.2 156.0h0M108.8 155.7h0M114.5 156.2h0M117.5 156.8h0M87.0 158.6h0M90.2 158.9h0M91.8 159.6h0M94.8 158.9h0M101.4 159.5h0M107.6 159.1h0M110.4 158.9h0M114.0 159.3h0M116.7 159.8h0M119.7 159.9h0M127.1 110.6h0M130.4 110.8h0M140.7 110.4h0M120.6 111.9h0M123.6 111.5h0M127.0 111.4h0M128.5 112.9h0M131.4 113.0h0M136.8 112.1h0M120.3 115.4h0M122.2 114.3h0M125.7 114.0h0M128.2 115.1h0M129.7 114.9h0M135.2 115.0h0M138.3 114.2h0M140.9 115.0h0M121.2 116.0h0M124.8 116.2h0M126.3 116.9h0M129.3 116.0h0M137.0 116.4h0M139.7 116.3h0M120.7 118.0h0M125.4 118.2h0M128.2 118.8h0M129.7 119.5h0M135.2 119.0h0M137.9 119.4h0M120.5 120.4h0M127.2 121.7h0M128.2 121.3h0M133.8 120.7h0M136.4 120.7h0M120.8 123.8h0M121.8 123.7h0M124.5 123.2h0M127.1 123.0h0M129.5 123.5h0M136.0 123.0h0M138.2 124.0h0M121.3 125.1h0M124.4 125.5h0M126.0 126.1h0M129.5 126.2h0M131.6 124.7h0M133.3 125.7h0M138.7 126.1h0M122.0 128.6h0M125.1 128.4h0M127.3 128.0h0M130.8 127.6h0M132.5 127.1h0M135.7 127.7h0M140.3 127.2h0M122.0 130.9h0M123.4 129.5h0M126.6 129.2h0M128.3 129.3h0M137.2 130.7h0M139.4 130.5h0M120.1 131.9h0M122.0 131.8h0M125.7 133.1h0M127.6 131.7h0M138.3 131.7h0M140.4 132.2h0M120.8 133.7h0M123.7 133.8h0M139.6 134.9h0M142.0 134.3h0M144.5 134.8h0M144.9 136.5h0M121.9 143.2h0M123.6 143.5h0M120.5 147.4h0M124.5 148.0h0M122.1 149.6h0M124.8 149.6h0M128.0 150.3h0M121.1 152.7h0M125.7 151.5h0M120.2 154.7h0M123.4 154.3h0M124.6 154.4h0M121.6 157.3h0M123.5 156.2h0M126.8 156.2h0M122.8 158.6h0M90.6 160.5h0M104.3 160.2h0M116.6 160.3h0M82.2 163.1h0M88.6 162.2h0M92.0 162.2h0M94.6 162.8h0M97.1 161.8h0M100.7 162.8h0M106.8 162.7h0M109.4 163.4h0M111.5 162.3h0M118.0 163.2h0M82.0 165.1h0M84.7 164.3h0M87.4 164.3h0M90.5 165.6h0M93.0 164.9h0M99.8 165.6h0M102.2 164.8h0M83.1 166.8h0M86.8 167.3h0M89.6 166.7h0M92.2 168.2h0M94.5 167.3h0M97.8 167.2h0M100.0 168.3h0M111.7 167.4h0M114.1 167.4h0M117.1 167.8h0M84.7 169.4h0M87.7 169.1h0M91.2 170.5h0M92.7 169.9h0M106.9 170.1h0M111.3 169.7h0M113.7 169.3h0M117.0 170.7h0M118.9 170.4h0M80.7 173.0h0M82.5 172.8h0M86.0 172.7h0M88.7 172.7h0M103.1 172.0h0M105.4 171.7h0M109.6 171.9h0M114.4 172.7h0M117.8 172.1h0M76.3 175.3h0M78.8 174.2h0M81.2 174.9h0M83.7 174.3h0M88.0 174.4h0M90.4 174.6h0M93.2 174.9h0M101.8 174.4h0M105.2 174.4h0M108.1 175.6h0M111.3 175.1h0M113.9 175.6h0M116.9 175.2h0M120.0 175.5h0M85.6 177.9h0M88.8 177.1h0M91.1 178.1h0M94.1 177.0h0M106.2 177.5h0M112.8 176.7h0M115.0 178.1h0M118.4 178.4h0M87.8 180.0h0M90.0 179.6h0M104.8 180.7h0M80.6 183.4h0M86.7 183.4h0M88.2 182.3h0M98.0 183.4h0M100.4 183.4h0M104.0 183.3h0M109.4 183.2h0M80.8 185.1h0M84.5 185.7h0M86.5 184.5h0M89.8 185.0h0M93.8 185.4h0M95.6 184.9h0M99.5 185.2h0M101.2 184.8h0M103.9 185.0h0M107.2 184.7h0M110.3 185.8h0M83.9 188.4h0M85.3 188.2h0M89.0 187.4h0M91.8 188.3h0M94.6 187.7h0M97.5 186.8h0M100.9 186.9h0M106.3 187.2h0M109.5 187.8h0M82.2 189.4h0M84.2 189.4h0M88.0 190.0h0M90.5 189.3h0M93.1 189.9h0M96.5 189.6h0M99.8 189.8h0M106.8 190.9h0M111.4 190.3h0M80.6 193.0h0M83.6 192.4h0M86.5 191.9h0M89.2 193.0h0M91.8 192.8h0M111.2 192.0h0M82.1 194.9h0M84.8 194.6h0M87.0 195.9h0M74.7 198.3h0M78.0 197.3h0M82.6 198.3h0M76.6 201.0h0M78.2 199.6h0M81.8 200.2h0M84.3 200.2h0M75.1 202.3h0M83.6 201.9h0M75.4 204.6h0M75.2 208.2h0M76.5 206.8h0M80.7 208.2h0M70.6 210.9h0M82.0 210.1h0M88.1 210.5h0M101.2 210.4h0M102.9 210.4h0M116.4 210.7h0M118.7 210.3h0M71.7 213.2h0M74.3 212.9h0M77.1 212.1h0M80.2 212.5h0M83.3 212.8h0M89.9 213.2h0M96.0 211.8h0M99.6 212.9h0M102.4 211.9h0M104.8 212.3h0M108.6 213.1h0M110.4 213.5h0M113.5 212.0h0M117.2 212.5h0M70.8 214.4h0M73.8 215.6h0M75.7 214.6h0M79.5 214.4h0M81.8 214.5h0M84.9 216.2h0M88.8 215.3h0M91.5 215.5h0M94.8 215.8h0M98.2 216.1h0M106.7 214.4h0M110.1 216.1h0M113.0 214.8h0M118.5 215.8h0M71.0 217.3h0M77.3 217.6h0M83.7 218.1h0M86.4 218.6h0M92.6 218.5h0M95.7 217.7h0M111.3 218.0h0M72.6 219.7h0M83.0 220.9h0M85.8 220.6h0M88.7 220.8h0M90.4 220.3h0M93.6 220.8h0M97.1 220.4h0M99.7 221.4h0M103.0 219.9h0M112.4 219.6h0M71.6 223.6h0M73.7 222.6h0M78.1 223.5h0M79.9 222.7h0M82.9 223.7h0M87.0 222.9h0M92.3 223.2h0M94.9 223.5h0M99.7 222.5h0M101.8 223.3h0M110.7 223.7h0M72.2 226.3h0M75.5 225.2h0M78.5 226.3h0M82.5 225.5h0M85.2 225.5h0M88.2 224.9h0M94.0 226.1h0M97.5 225.7h0M100.6 226.1h0M103.5 226.3h0M115.5 226.5h0M118.0 225.9h0M89.8 228.6h0M92.3 228.5h0M96.2 228.1h0M101.9 229.2h0M105.1 228.1h0M107.4 229.2h0M111.5 228.5h0M113.2 228.1h0M116.9 227.7h0M86.0 230.5h0M87.5 231.7h0M90.4 231.1h0M100.8 231.4h0M102.7 231.0h0M106.4 230.4h0M108.8 230.7h0M112.3 231.8h0M77.8 233.3h0M81.0 234.0h0M84.3 234.0h0M86.0 234.2h0M90.5 234.3h0M93.0 233.0h0M96.5 233.7h0M105.7 234.4h0M107.2 233.6h0M73.2 235.9h0M76.7 237.0h0M79.1 237.1h0M81.6 236.6h0M91.9 235.9h0M94.1 235.6h0M97.3 236.9h0M72.0 239.1h0M74.3 239.3h0M76.8 239.3h0M80.5 239.4h0M83.8 238.7h0M86.4 238.9h0M96.6 239.0h0M98.5 238.3h0M101.5 238.7h0M108.8 239.7h0M111.7 239.7h0M114.4 239.8h0M76.9 241.4h0M79.4 242.4h0M85.8 241.7h0M88.9 241.3h0M91.8 241.4h0M93.8 242.1h0M97.8 241.8h0M100.3 241.1h0M108.6 242.1h0M113.1 240.9h0M114.7 242.2h0M118.2 241.6h0M72.3 243.6h0M74.5 243.4h0M78.3 244.8h0M80.5 244.7h0M83.0 244.7h0M88.9 243.8h0M93.1 244.8h0M95.8 244.5h0M98.8 244.3h0M101.5 243.6h0M107.6 243.8h0M110.7 244.2h0M113.4 244.1h0M116.8 244.0h0M73.7 246.4h0M76.5 247.6h0M78.9 246.5h0M82.5 247.6h0M85.2 247.1h0M87.5 246.5h0M91.2 247.1h0M94.1 247.2h0M97.9 246.3h0M100.4 246.1h0M103.1 246.9h0M71.0 250.3h0M75.3 249.2h0M77.1 249.9h0M80.3 250.1h0M83.3 250.1h0M86.4 249.6h0M89.4 249.7h0M92.0 249.2h0M95.5 249.6h0M99.4 249.4h0M107.4 249.1h0M110.8 249.4h0M114.0 250.0h0M117.6 249.3h0M70.5 252.2h0M72.2 252.7h0M76.8 252.3h0M79.1 252.8h0M87.7 252.0h0M91.4 251.6h0M93.5 252.1h0M100.9 253.0h0M106.3 252.2h0M109.0 252.9h0M113.0 252.9h0M115.3 252.1h0M71.1 255.0h0M75.3 253.9h0M77.3 254.7h0M85.9 254.3h0M89.0 255.4h0M93.0 254.7h0M98.6 255.3h0M102.5 254.2h0M108.8 254.2h0M110.2 254.2h0M114.8 254.9h0M70.4 257.2h0M73.1 257.6h0M76.6 258.1h0M79.4 257.9h0M81.5 256.8h0M88.1 256.9h0M91.3 257.0h0M97.9 258.1h0M100.2 257.9h0M103.6 256.8h0M106.5 256.6h0M109.1 256.6h0M111.9 258.0h0M115.6 258.0h0M71.5 259.7h0M75.4 259.1h0M77.0 259.4h0M80.6 259.8h0M89.4 259.9h0M92.3 259.1h0M95.5 259.7h0M99.3 259.8h0M102.5 259.3h0M104.6 259.4h0M108.5 259.4h0M111.1 260.0h0M72.0 259.7h0M75.2 258.5h0M76.9 258.6h0M79.0 259.8h0M81.3 259.8h0M83.0 258.7h0M85.5 258.9h0M87.7 258.7h0M89.3 259.3h0M91.4 258.6h0M93.5 259.5h0M95.9 258.7h0M99.3 259.2h0M100.8 258.8h0M103.2 259.6h0M71.0 260.3h0M74.2 260.9h0M75.3 260.4h0M77.1 260.5h0M79.2 261.1h0M82.4 261.7h0M83.9 261.6h0M87.0 260.2h0M88.2 260.5h0M91.6 261.5h0M92.4 260.6h0M94.8 261.3h0M97.5 261.8h0M100.4 260.6h0M101.6 261.0h0M104.0 261.6h0M72.7 262.6h0M74.9 262.2h0M76.4 263.1h0M78.5 262.1h0M81.2 263.1h0M83.5 262.3h0M84.7 262.1h0M87.7 262.1h0M91.9 263.3h0M93.6 263.0h0M96.4 262.4h0M99.4 263.7h0M101.8 262.5h0M102.3 263.3h0M107.2 263.5h0M118.5 263.7h0M71.1 265.2h0M73.4 265.6h0M74.8 264.5h0M77.1 265.5h0M80.8 264.3h0M81.8 264.4h0M84.5 265.2h0M86.1 265.4h0M88.7 264.9h0M90.7 264.8h0M92.3 264.0h0M96.2 264.5h0M97.3 265.7h0M99.5 264.1h0M102.7 264.7h0M104.5 264.5h0M105.8 264.4h0M109.1 264.9h0M111.1 265.3h0M113.2 265.2h0M114.7 264.3h0M117.4 265.5h0M119.2 265.4h0M71.5 266.1h0M75.0 266.3h0M91.8 265.9h0M94.5 265.9h0M64.5 251.4h0M68.0 250.6h0M63.6 252.7h0M66.6 252.7h0M68.2 253.7h0M62.2 255.4h0M64.2 255.3h0M68.3 255.5h0M63.4 257.4h0M66.7 258.5h0M68.1 258.6h0M62.4 259.6h0M64.2 260.0h0M66.8 259.4h0M61.9 262.0h0M63.3 261.6h0M68.1 261.8h0" fill="none" stroke="#3877b0" stroke-width="4.5" stroke-linecap="round"/>
<rect x="30.25" y="12.6" width="274.55" height="267.70" fill="none" stroke="#333333" stroke-width="0.75"/>
<path d="M30.25 280.3v2.7M85.16 280.3v2.7M140.07 280.3v2.7M194.98 280.3v2.7M249.89 280.3v2.7M304.80 280.3v2.7M30.25 266.30h-2.7M30.25 218.34h-2.7M30.25 170.38h-2.7M30.25 122.42h-2.7M30.25 74.46h-2.7M30.25 26.50h-2.7" stroke="#333333" stroke-width="0.7" fill="none"/>
<path d="M46.78 280.3v1.5M56.45 280.3v1.5M63.31 280.3v1.5M68.63 280.3v1.5M72.98 280.3v1.5M76.65 280.3v1.5M79.84 280.3v1.5M82.65 280.3v1.5M101.69 280.3v1.5M111.36 280.3v1.5M118.22 280.3v1.5M123.54 280.3v1.5M127.89 280.3v1.5M131.56 280.3v1.5M134.75 280.3v1.5M137.56 280.3v1.5M156.60 280.3v1.5M166.27 280.3v1.5M173.13 280.3v1.5M178.45 280.3v1.5M182.80 280.3v1.5M186.47 280.3v1.5M189.66 280.3v1.5M192.47 280.3v1.5M211.51 280.3v1.5M221.18 280.3v1.5M228.04 280.3v1.5M233.36 280.3v1.5M237.71 280.3v1.5M241.38 280.3v1.5M244.57 280.3v1.5M247.38 280.3v1.5M266.42 280.3v1.5M276.09 280.3v1.5M282.95 280.3v1.5M288.27 280.3v1.5M292.62 280.3v1.5M296.29 280.3v1.5M299.48 280.3v1.5M302.29 280.3v1.5" stroke="#333333" stroke-width="0.5" fill="none"/>
<text x="24.25" y="269.20" font-size="8.6" text-anchor="end" textLength="11.49" lengthAdjust="spacingAndGlyphs">0.0</text>
<text x="24.25" y="221.24" font-size="8.6" text-anchor="end" textLength="11.49" lengthAdjust="spacingAndGlyphs">0.2</text>
<text x="24.25" y="173.28" font-size="8.6" text-anchor="end" textLength="11.49" lengthAdjust="spacingAndGlyphs">0.4</text>
<text x="24.25" y="125.32" font-size="8.6" text-anchor="end" textLength="11.49" lengthAdjust="spacingAndGlyphs">0.6</text>
<text x="24.25" y="77.36" font-size="8.6" text-anchor="end" textLength="11.49" lengthAdjust="spacingAndGlyphs">0.8</text>
<text x="24.25" y="29.40" font-size="8.6" text-anchor="end" textLength="11.49" lengthAdjust="spacingAndGlyphs">1.0</text>
<text x="23.61" y="293.70" font-size="8.6" text-anchor="start" textLength="9.84" lengthAdjust="spacingAndGlyphs">10</text>
<text x="33.65" y="290.80" font-size="6.11" text-anchor="start" textLength="3.49" lengthAdjust="spacingAndGlyphs">1</text>
<text x="78.52" y="293.70" font-size="8.6" text-anchor="start" textLength="9.84" lengthAdjust="spacingAndGlyphs">10</text>
<text x="88.56" y="290.80" font-size="6.11" text-anchor="start" textLength="3.49" lengthAdjust="spacingAndGlyphs">2</text>
<text x="133.43" y="293.70" font-size="8.6" text-anchor="start" textLength="9.84" lengthAdjust="spacingAndGlyphs">10</text>
<text x="143.47" y="290.80" font-size="6.11" text-anchor="start" textLength="3.49" lengthAdjust="spacingAndGlyphs">3</text>
<text x="188.34" y="293.70" font-size="8.6" text-anchor="start" textLength="9.84" lengthAdjust="spacingAndGlyphs">10</text>
<text x="198.38" y="290.80" font-size="6.11" text-anchor="start" textLength="3.49" lengthAdjust="spacingAndGlyphs">4</text>
<text x="243.25" y="293.70" font-size="8.6" text-anchor="start" textLength="9.84" lengthAdjust="spacingAndGlyphs">10</text>
<text x="253.29" y="290.80" font-size="6.11" text-anchor="start" textLength="3.49" lengthAdjust="spacingAndGlyphs">5</text>
<text x="298.16" y="293.70" font-size="8.6" text-anchor="start" textLength="9.84" lengthAdjust="spacingAndGlyphs">10</text>
<text x="308.20" y="290.80" font-size="6.11" text-anchor="start" textLength="3.49" lengthAdjust="spacingAndGlyphs">6</text>
<text x="167.53" y="305.20" font-size="8.2" text-anchor="middle" textLength="135.39" lengthAdjust="spacingAndGlyphs">Entity instances in training dataset</text>
<text x="167.53" y="8.00" font-size="10.1" text-anchor="middle" textLength="48.87" lengthAdjust="spacingAndGlyphs">All entities</text>
<text x="6.75" y="146.45" font-size="8.2" text-anchor="middle" textLength="183.91" lengthAdjust="spacingAndGlyphs" transform="rotate(-90 6.75 146.45)">Recall on testing dataset using distant labelling</text>
<clipPath id="c1"><rect x="359.6" y="12.5" width="275.00" height="267.80"/></clipPath>
<path clip-path="url(#c1)" d="M401.3 61.9h0M428.3 34.1h0M431.7 40.4h0M434.6 40.4h0M444.6 45.8h0M449.2 44.8h0M450.1 46.6h0M444.0 57.4h0M419.7 60.0h0M455.6 26.5h0M454.0 34.0h0M451.2 40.4h0M455.6 48.9h0M451.6 53.6h0M465.8 45.6h0M468.1 46.6h0M465.0 49.4h0M463.9 52.0h0M468.7 51.2h0M472.7 49.6h0M472.5 44.1h0M476.4 39.5h0M477.9 44.2h0M488.8 26.5h0M494.4 29.4h0M495.8 31.3h0M490.2 32.7h0M493.0 33.5h0M497.0 34.7h0M495.4 36.3h0M485.4 34.7h0M484.1 37.1h0M484.1 39.5h0M492.0 44.9h0M499.4 42.5h0M498.6 52.6h0M492.8 55.8h0M497.4 58.2h0M470.3 58.6h0M472.1 59.2h0M460.8 60.0h0M530.6 27.0h0M522.1 29.4h0M525.1 29.4h0M508.4 31.5h0M512.7 30.9h0M514.3 32.7h0M518.1 32.5h0M519.5 34.1h0M529.9 31.1h0M530.5 33.9h0M537.4 32.5h0M549.0 27.5h0M550.0 30.3h0M504.9 35.6h0M510.4 36.4h0M524.5 33.9h0M525.1 35.9h0M518.3 37.9h0M518.1 40.2h0M531.3 37.9h0M533.0 38.0h0M535.0 37.3h0M544.2 36.4h0M547.0 35.9h0M549.4 35.3h0M501.2 41.9h0M506.0 43.2h0M508.6 43.0h0M507.2 45.0h0M512.7 43.3h0M526.1 43.0h0M524.5 45.4h0M524.3 47.4h0M516.7 47.0h0M509.6 49.4h0M513.4 50.5h0M517.4 51.2h0M520.5 55.1h0M500.0 52.6h0M451.2 64.9h0M465.5 64.1h0M463.9 66.0h0M459.4 68.9h0M477.9 62.8h0M478.8 64.4h0M475.5 67.3h0M476.4 69.2h0M482.6 69.5h0M483.4 72.6h0M480.9 73.5h0M491.4 64.0h0M489.8 66.2h0M488.1 68.8h0M473.3 74.5h0M450.0 74.5h0M458.6 79.7h0M486.5 81.3h0M465.5 83.5h0M469.5 82.5h0M471.5 85.6h0M474.9 88.3h0M459.6 85.1h0M460.8 87.1h0M461.9 89.3h0M463.4 92.1h0M450.0 85.3h0M454.0 90.2h0M451.6 93.4h0M454.9 94.6h0M470.1 96.8h0M457.8 101.0h0M467.5 102.0h0M453.2 103.6h0M450.8 105.0h0M462.1 105.4h0M479.9 102.0h0M478.3 103.0h0M480.2 105.4h0M474.9 107.4h0M472.5 108.7h0M453.2 108.4h0M497.4 60.0h0M516.6 63.6h0M528.9 68.2h0M504.9 68.0h0M507.3 69.5h0M506.0 73.5h0M507.3 73.7h0M535.3 87.6h0M551.5 28.1h0M559.1 27.5h0M557.5 33.5h0M566.9 26.3h0M565.3 28.3h0M567.1 30.5h0M565.9 34.3h0M570.9 28.1h0M586.2 27.1h0M553.8 47.3h0M594.1 26.2h0M611.7 28.8h0M448.6 74.5h0M436.2 79.8h0M446.2 82.8h0M429.1 84.4h0M428.3 89.2h0M443.2 88.3h0M437.8 89.9h0M436.9 92.8h0M423.1 93.7h0M443.2 95.3h0M419.2 101.4h0M426.3 100.6h0M422.9 103.6h0M422.9 106.2h0M437.0 101.4h0M447.0 101.8h0M448.6 104.6h0M446.4 108.2h0M428.3 110.0h0M420.5 113.7h0M423.7 112.2h0M427.5 114.8h0M437.0 112.2h0M435.4 116.8h0M437.8 118.2h0M420.7 121.7h0M426.1 123.1h0M435.3 122.3h0M442.4 121.9h0M441.4 125.5h0M445.4 126.3h0M448.2 120.3h0M449.8 118.0h0M450.0 121.9h0M435.3 127.0h0M402.9 129.3h0M437.7 130.9h0M448.4 131.5h0M416.1 133.9h0M441.6 133.9h0M437.4 133.5h0M435.3 135.6h0M432.2 139.9h0M403.7 142.4h0M419.9 141.7h0M431.3 144.1h0M435.3 144.8h0M445.4 145.6h0M447.8 144.6h0M450.0 142.2h0M425.3 149.4h0M438.5 149.4h0M440.8 154.8h0M447.0 153.9h0M449.8 153.4h0M449.8 149.8h0M414.6 157.8h0M414.6 159.8h0M420.7 157.8h0M420.9 159.8h0M429.9 155.9h0M430.1 158.6h0M447.4 110.0h0M448.4 107.4h0M465.5 115.3h0M464.1 117.7h0M473.3 116.9h0M459.4 117.5h0M457.4 119.7h0M458.9 122.3h0M454.7 124.5h0M457.0 127.1h0M461.7 126.3h0M453.1 134.9h0M456.2 133.9h0M469.3 133.1h0M476.4 133.1h0M451.5 140.4h0M460.9 143.2h0M455.4 147.6h0M453.1 149.2h0M397.4 154.9h0M424.5 167.0h0M442.4 167.0h0M413.2 169.7h0M416.9 172.6h0M418.8 171.6h0M432.3 173.4h0M421.7 177.2h0M442.4 178.2h0M407.6 180.1h0M434.7 180.1h0M429.3 186.6h0M436.1 191.2h0M417.7 193.3h0M403.8 200.4h0M413.7 200.4h0M442.4 203.5h0M420.1 205.9h0M445.5 210.0h0M495.7 133.2h0M491.9 158.6h0M454.0 157.1h0M454.8 161.8h0M453.2 182.8h0M459.2 182.0h0M463.2 194.1h0M471.8 198.8h0M397.4 215.9h0M426.1 216.7h0M417.7 221.2h0M424.4 221.5h0M429.1 222.8h0M426.4 224.2h0M433.1 224.4h0M439.2 223.1h0M404.6 225.8h0M409.2 225.0h0M418.5 225.8h0M423.2 225.8h0M442.4 229.8h0M436.8 233.0h0M434.9 234.2h0M406.1 235.8h0M409.4 235.0h0M425.3 239.8h0M437.6 240.6h0M427.6 244.6h0M427.7 246.7h0M448.7 246.2h0M391.4 253.8h0M406.9 252.1h0M423.2 250.5h0M421.7 252.2h0M420.1 253.8h0M399.8 256.1h0M402.1 258.9h0M405.2 258.1h0M405.2 260.2h0M409.7 260.0h0M416.1 262.1h0M422.1 262.9h0M429.9 261.3h0M423.2 265.6h0M429.1 265.8h0M436.0 266.1h0M437.6 266.1h0M480.3 216.4h0M454.0 226.6h0M462.6 245.4h0M453.2 266.1h0M461.8 264.5h0M359.6 266.3h0M361.9 266.3h0M363.9 266.3h0M365.9 266.3h0M367.6 266.3h0M369.3 266.3h0M370.8 266.3h0M372.3 266.3h0M373.6 266.3h0M374.9 266.3h0M376.2 266.3h0M377.3 266.3h0M378.4 266.3h0M379.5 266.3h0M380.5 266.3h0M381.5 266.3h0M382.4 266.3h0M383.3 266.3h0M384.2 266.3h0M385.0 266.3h0M385.8 266.3h0M386.6 266.3h0M387.4 266.3h0M388.1 266.3h0M388.8 266.3h0M390.2 266.3h0M391.5 266.3h0M392.7 266.3h0M393.9 266.3h0M395.0 266.3h0M396.1 266.3h0M397.1 266.3h0M398.0 266.3h0M399.0 266.3h0M399.9 266.3h0M400.8 266.3h0M401.6 266.3h0M402.4 266.3h0M403.2 266.3h0M403.9 266.3h0M404.7 266.3h0M405.4 266.3h0M406.4 266.3h0M407.4 266.3h0M408.4 266.3h0M409.3 266.3h0M410.1 266.3h0M411.0 266.3h0M411.8 266.3h0M412.6 266.3h0M413.4 266.3h0M414.1 266.3h0M414.8 266.3h0M415.8 266.3h0M416.7 266.3h0M417.5 266.3h0" fill="none" stroke="#3877b0" stroke-width="4.5" stroke-linecap="round"/>
<rect x="359.6" y="12.5" width="275.00" height="267.80" fill="none" stroke="#333333" stroke-width="0.75"/>
<path d="M359.60 280.3v2.7M414.60 280.3v2.7M469.60 280.3v2.7M524.60 280.3v2.7M579.60 280.3v2.7M634.60 280.3v2.7M359.6 266.30h-2.7M359.6 218.34h-2.7M359.6 170.38h-2.7M359.6 122.42h-2.7M359.6 74.46h-2.7M359.6 26.50h-2.7" stroke="#333333" stroke-width="0.7" fill="none"/>
<path d="M376.16 280.3v1.5M385.84 280.3v1.5M392.71 280.3v1.5M398.04 280.3v1.5M402.40 280.3v1.5M406.08 280.3v1.5M409.27 280.3v1.5M412.08 280.3v1.5M431.16 280.3v1.5M440.84 280.3v1.5M447.71 280.3v1.5M453.04 280.3v1.5M457.40 280.3v1.5M461.08 280.3v1.5M464.27 280.3v1.5M467.08 280.3v1.5M486.16 280.3v1.5M495.84 280.3v1.5M502.71 280.3v1.5M508.04 280.3v1.5M512.40 280.3v1.5M516.08 280.3v1.5M519.27 280.3v1.5M522.08 280.3v1.5M541.16 280.3v1.5M550.84 280.3v1.5M557.71 280.3v1.5M563.04 280.3v1.5M567.40 280.3v1.5M571.08 280.3v1.5M574.27 280.3v1.5M577.08 280.3v1.5M596.16 280.3v1.5M605.84 280.3v1.5M612.71 280.3v1.5M618.04 280.3v1.5M622.40 280.3v1.5M626.08 280.3v1.5M629.27 280.3v1.5M632.08 280.3v1.5" stroke="#333333" stroke-width="0.5" fill="none"/>
<text x="353.60" y="269.20" font-size="8.6" text-anchor="end" textLength="11.49" lengthAdjust="spacingAndGlyphs">0.0</text>
<text x="353.60" y="221.24" font-size="8.6" text-anchor="end" textLength="11.49" lengthAdjust="spacingAndGlyphs">0.2</text>
<text x="353.60" y="173.28" font-size="8.6" text-anchor="end" textLength="11.49" lengthAdjust="spacingAndGlyphs">0.4</text>
<text x="353.60" y="125.32" font-size="8.6" text-anchor="end" textLength="11.49" lengthAdjust="spacingAndGlyphs">0.6</text>
<text x="353.60" y="77.36" font-size="8.6" text-anchor="end" textLength="11.49" lengthAdjust="spacingAndGlyphs">0.8</text>
<text x="353.60" y="29.40" font-size="8.6" text-anchor="end" textLength="11.49" lengthAdjust="spacingAndGlyphs">1.0</text>
<text x="352.96" y="293.70" font-size="8.6" text-anchor="start" textLength="9.84" lengthAdjust="spacingAndGlyphs">10</text>
<text x="363.00" y="290.80" font-size="6.11" text-anchor="start" textLength="3.49" lengthAdjust="spacingAndGlyphs">1</text>
<text x="407.96" y="293.70" font-size="8.6" text-anchor="start" textLength="9.84" lengthAdjust="spacingAndGlyphs">10</text>
<text x="418.00" y="290.80" font-size="6.11" text-anchor="start" textLength="3.49" lengthAdjust="spacingAndGlyphs">2</text>
<text x="462.96" y="293.70" font-size="8.6" text-anchor="start" textLength="9.84" lengthAdjust="spacingAndGlyphs">10</text>
<text x="473.00" y="290.80" font-size="6.11" text-anchor="start" textLength="3.49" lengthAdjust="spacingAndGlyphs">3</text>
<text x="517.96" y="293.70" font-size="8.6" text-anchor="start" textLength="9.84" lengthAdjust="spacingAndGlyphs">10</text>
<text x="528.00" y="290.80" font-size="6.11" text-anchor="start" textLength="3.49" lengthAdjust="spacingAndGlyphs">4</text>
<text x="572.96" y="293.70" font-size="8.6" text-anchor="start" textLength="9.84" lengthAdjust="spacingAndGlyphs">10</text>
<text x="583.00" y="290.80" font-size="6.11" text-anchor="start" textLength="3.49" lengthAdjust="spacingAndGlyphs">5</text>
<text x="627.96" y="293.70" font-size="8.6" text-anchor="start" textLength="9.84" lengthAdjust="spacingAndGlyphs">10</text>
<text x="638.00" y="290.80" font-size="6.11" text-anchor="start" textLength="3.49" lengthAdjust="spacingAndGlyphs">6</text>
<text x="497.10" y="305.20" font-size="8.2" text-anchor="middle" textLength="135.39" lengthAdjust="spacingAndGlyphs">Entity instances in training dataset</text>
<text x="497.10" y="7.90" font-size="10.1" text-anchor="middle" textLength="33.26" lengthAdjust="spacingAndGlyphs">Finding</text>
<text x="336.10" y="146.40" font-size="8.2" text-anchor="middle" textLength="183.91" lengthAdjust="spacingAndGlyphs" transform="rotate(-90 336.10 146.40)">Recall on testing dataset using distant labelling</text>
<clipPath id="c2"><rect x="30.25" y="333.4" width="274.55" height="267.50"/></clipPath>
<path clip-path="url(#c2)" d="M112.8 349.9h0M70.5 365.0h0M96.8 363.4h0M94.0 369.0h0M105.2 371.4h0M113.6 372.2h0M98.8 375.4h0M107.3 376.2h0M95.6 380.0h0M102.8 382.1h0M110.5 382.6h0M106.8 385.2h0M110.8 386.9h0M113.6 387.6h0M108.1 391.3h0M113.6 394.5h0M96.8 402.3h0M108.1 401.3h0M110.0 400.5h0M115.1 401.7h0M110.0 405.3h0M103.4 407.1h0M108.1 408.3h0M96.8 411.5h0M104.9 413.6h0M105.2 416.8h0M102.5 418.4h0M99.6 419.2h0M114.4 422.4h0M88.8 424.8h0M101.2 428.7h0M112.0 429.5h0M125.2 352.9h0M133.7 352.1h0M150.0 351.9h0M153.2 352.7h0M151.5 354.5h0M164.5 349.5h0M160.9 354.1h0M157.6 356.7h0M156.8 357.9h0M122.2 359.7h0M126.2 361.9h0M126.8 365.8h0M135.3 360.2h0M136.9 363.6h0M153.2 359.7h0M150.0 361.4h0M164.8 359.9h0M153.2 365.8h0M150.0 367.4h0M160.9 367.4h0M128.4 370.6h0M157.0 371.4h0M120.6 371.4h0M119.6 373.0h0M119.0 377.5h0M126.2 375.8h0M128.4 378.2h0M137.7 375.8h0M136.1 378.2h0M146.1 374.2h0M144.9 376.2h0M143.3 379.4h0M150.0 378.2h0M163.6 375.0h0M158.4 377.8h0M162.0 378.6h0M164.8 377.8h0M123.0 380.0h0M171.8 349.1h0M168.6 352.7h0M170.2 354.3h0M182.5 349.1h0M185.3 349.9h0M182.1 351.9h0M183.7 353.5h0M186.1 355.1h0M189.3 349.9h0M190.9 351.5h0M192.1 352.3h0M195.7 348.7h0M197.6 347.9h0M195.2 350.3h0M198.4 350.3h0M195.7 355.1h0M201.2 347.9h0M204.0 347.1h0M206.4 347.1h0M202.4 349.9h0M200.4 351.1h0M204.8 349.5h0M208.4 351.1h0M211.2 348.7h0M213.2 349.1h0M214.8 348.7h0M212.0 350.7h0M209.6 350.3h0M180.1 355.9h0M182.5 359.3h0M189.3 359.5h0M187.7 360.6h0M207.2 355.9h0M206.0 359.9h0M208.8 360.6h0M168.2 359.5h0M171.0 358.7h0M171.8 360.6h0M174.9 360.6h0M170.6 363.0h0M170.2 369.8h0M183.2 369.8h0M198.7 369.0h0M215.8 349.9h0M217.9 349.4h0M217.4 352.3h0M223.8 350.2h0M225.3 349.4h0M227.7 349.1h0M230.1 348.6h0M231.7 348.8h0M234.9 349.6h0M236.5 349.4h0M238.1 349.1h0M225.0 355.0h0M232.8 357.4h0M238.9 355.8h0M246.1 357.4h0M245.2 349.1h0M249.7 349.9h0M258.3 347.4h0M264.0 347.4h0M266.0 347.4h0M268.3 347.4h0M270.2 347.4h0M273.1 347.4h0M278.4 347.4h0M306.2 347.4h0M129.2 383.0h0M148.4 383.6h0M136.1 384.9h0M137.3 387.2h0M141.7 389.2h0M164.4 386.0h0M163.6 387.7h0M129.2 388.2h0M128.9 390.8h0M132.1 391.1h0M134.9 392.1h0M133.7 394.3h0M124.4 389.9h0M148.4 389.9h0M151.0 390.8h0M157.8 390.8h0M122.2 397.0h0M139.9 397.7h0M156.2 400.9h0M139.9 403.9h0M133.9 409.3h0M117.6 413.8h0M122.2 421.0h0M149.2 419.6h0M150.0 423.0h0M142.3 423.9h0M119.0 427.5h0M116.2 428.6h0M172.6 384.6h0M174.0 383.6h0M178.7 386.9h0M181.1 395.4h0M184.9 410.0h0M207.2 387.7h0M89.6 434.0h0M88.5 437.2h0M91.3 438.0h0M100.1 435.6h0M101.5 435.1h0M112.0 435.6h0M117.5 435.6h0M81.3 439.6h0M78.1 441.6h0M87.2 442.4h0M87.2 445.9h0M104.4 440.8h0M114.4 442.4h0M106.0 445.4h0M101.2 447.8h0M84.2 450.2h0M115.2 454.8h0M106.8 455.5h0M89.8 457.4h0M87.7 459.5h0M86.9 461.5h0M100.4 459.9h0M102.8 461.1h0M79.7 467.4h0M96.8 467.4h0M95.6 471.1h0M94.0 472.7h0M111.2 472.7h0M108.1 478.1h0M116.0 479.8h0M112.4 481.3h0M92.0 480.6h0M90.1 481.8h0M88.8 484.1h0M82.9 484.5h0M114.4 484.9h0M113.6 487.3h0M113.6 489.7h0M113.6 491.8h0M106.0 487.6h0M85.8 492.9h0M84.2 496.6h0M114.0 498.1h0M116.8 498.1h0M94.4 499.6h0M87.4 502.9h0M110.0 502.9h0M103.6 504.4h0M104.9 506.8h0M105.5 508.8h0M85.0 507.7h0M92.8 509.0h0M88.2 511.5h0M73.3 512.2h0M80.2 513.6h0M77.3 527.5h0M131.5 432.4h0M149.9 442.4h0M130.7 447.0h0M147.6 451.0h0M190.9 454.2h0M144.4 462.6h0M163.8 464.7h0M125.2 478.9h0M131.5 484.5h0M125.9 487.3h0M129.1 491.0h0M129.1 492.9h0M139.9 506.0h0M129.1 510.6h0M71.0 535.9h0M98.0 533.9h0M74.9 543.9h0M79.7 543.9h0M68.9 556.3h0M100.4 564.8h0M76.5 566.2h0M77.3 571.0h0M79.2 571.0h0M76.5 574.9h0M77.3 579.4h0M83.7 580.5h0M100.4 582.6h0M85.3 584.5h0M99.6 587.4h0M120.7 562.4h0M155.4 565.7h0M160.2 563.0h0M30.2 587.5h0M32.5 587.5h0M34.6 587.5h0M36.5 587.5h0M38.3 587.5h0M39.9 587.5h0M41.5 587.5h0M42.9 587.5h0M44.3 587.5h0M45.6 587.5h0M46.8 587.5h0M47.9 587.5h0M49.0 587.5h0M50.1 587.5h0M51.1 587.5h0M52.1 587.5h0M53.0 587.5h0M53.9 587.5h0M54.8 587.5h0M55.6 587.5h0M56.5 587.5h0M57.2 587.5h0M58.0 587.5h0M58.7 587.5h0M59.4 587.5h0M60.8 587.5h0M62.1 587.5h0M63.3 587.5h0M64.5 587.5h0M65.6 587.5h0M66.6 587.5h0M67.7 587.5h0M68.6 587.5h0M69.6 587.5h0M70.5 587.5h0M71.3 587.5h0M72.2 587.5h0M73.0 587.5h0M73.8 587.5h0M74.5 587.5h0M75.2 587.5h0M76.0 587.5h0M77.0 587.5h0M78.0 587.5h0M78.9 587.5h0M79.8 587.5h0M80.7 587.5h0M81.6 587.5h0M82.4 587.5h0M83.2 587.5h0M83.9 587.5h0M84.7 587.5h0M85.4 587.5h0M86.3 587.5h0M87.2 587.5h0" fill="none" stroke="#3877b0" stroke-width="4.5" stroke-linecap="round"/>
<rect x="30.25" y="333.4" width="274.55" height="267.50" fill="none" stroke="#333333" stroke-width="0.75"/>
<path d="M30.25 600.9v2.7M85.16 600.9v2.7M140.07 600.9v2.7M194.98 600.9v2.7M249.89 600.9v2.7M304.80 600.9v2.7M30.25 587.50h-2.7M30.25 539.48h-2.7M30.25 491.46h-2.7M30.25 443.44h-2.7M30.25 395.42h-2.7M30.25 347.40h-2.7" stroke="#333333" stroke-width="0.7" fill="none"/>
<path d="M46.78 600.9v1.5M56.45 600.9v1.5M63.31 600.9v1.5M68.63 600.9v1.5M72.98 600.9v1.5M76.65 600.9v1.5M79.84 600.9v1.5M82.65 600.9v1.5M101.69 600.9v1.5M111.36 600.9v1.5M118.22 600.9v1.5M123.54 600.9v1.5M127.89 600.9v1.5M131.56 600.9v1.5M134.75 600.9v1.5M137.56 600.9v1.5M156.60 600.9v1.5M166.27 600.9v1.5M173.13 600.9v1.5M178.45 600.9v1.5M182.80 600.9v1.5M186.47 600.9v1.5M189.66 600.9v1.5M192.47 600.9v1.5M211.51 600.9v1.5M221.18 600.9v1.5M228.04 600.9v1.5M233.36 600.9v1.5M237.71 600.9v1.5M241.38 600.9v1.5M244.57 600.9v1.5M247.38 600.9v1.5M266.42 600.9v1.5M276.09 600.9v1.5M282.95 600.9v1.5M288.27 600.9v1.5M292.62 600.9v1.5M296.29 600.9v1.5M299.48 600.9v1.5M302.29 600.9v1.5" stroke="#333333" stroke-width="0.5" fill="none"/>
<text x="24.25" y="590.40" font-size="8.6" text-anchor="end" textLength="11.49" lengthAdjust="spacingAndGlyphs">0.0</text>
<text x="24.25" y="542.38" font-size="8.6" text-anchor="end" textLength="11.49" lengthAdjust="spacingAndGlyphs">0.2</text>
<text x="24.25" y="494.36" font-size="8.6" text-anchor="end" textLength="11.49" lengthAdjust="spacingAndGlyphs">0.4</text>
<text x="24.25" y="446.34" font-size="8.6" text-anchor="end" textLength="11.49" lengthAdjust="spacingAndGlyphs">0.6</text>
<text x="24.25" y="398.32" font-size="8.6" text-anchor="end" textLength="11.49" lengthAdjust="spacingAndGlyphs">0.8</text>
<text x="24.25" y="350.30" font-size="8.6" text-anchor="end" textLength="11.49" lengthAdjust="spacingAndGlyphs">1.0</text>
<text x="23.61" y="614.30" font-size="8.6" text-anchor="start" textLength="9.84" lengthAdjust="spacingAndGlyphs">10</text>
<text x="33.65" y="611.40" font-size="6.11" text-anchor="start" textLength="3.49" lengthAdjust="spacingAndGlyphs">1</text>
<text x="78.52" y="614.30" font-size="8.6" text-anchor="start" textLength="9.84" lengthAdjust="spacingAndGlyphs">10</text>
<text x="88.56" y="611.40" font-size="6.11" text-anchor="start" textLength="3.49" lengthAdjust="spacingAndGlyphs">2</text>
<text x="133.43" y="614.30" font-size="8.6" text-anchor="start" textLength="9.84" lengthAdjust="spacingAndGlyphs">10</text>
<text x="143.47" y="611.40" font-size="6.11" text-anchor="start" textLength="3.49" lengthAdjust="spacingAndGlyphs">3</text>
<text x="188.34" y="614.30" font-size="8.6" text-anchor="start" textLength="9.84" lengthAdjust="spacingAndGlyphs">10</text>
<text x="198.38" y="611.40" font-size="6.11" text-anchor="start" textLength="3.49" lengthAdjust="spacingAndGlyphs">4</text>
<text x="243.25" y="614.30" font-size="8.6" text-anchor="start" textLength="9.84" lengthAdjust="spacingAndGlyphs">10</text>
<text x="253.29" y="611.40" font-size="6.11" text-anchor="start" textLength="3.49" lengthAdjust="spacingAndGlyphs">5</text>
<text x="298.16" y="614.30" font-size="8.6" text-anchor="start" textLength="9.84" lengthAdjust="spacingAndGlyphs">10</text>
<text x="308.20" y="611.40" font-size="6.11" text-anchor="start" textLength="3.49" lengthAdjust="spacingAndGlyphs">6</text>
<text x="167.53" y="625.80" font-size="8.2" text-anchor="middle" textLength="135.39" lengthAdjust="spacingAndGlyphs">Entity instances in training dataset</text>
<text x="167.53" y="328.80" font-size="10.1" text-anchor="middle" textLength="80.04" lengthAdjust="spacingAndGlyphs">Sign or Symptom</text>
<text x="6.75" y="467.15" font-size="8.2" text-anchor="middle" textLength="183.91" lengthAdjust="spacingAndGlyphs" transform="rotate(-90 6.75 467.15)">Recall on testing dataset using distant labelling</text>
<clipPath id="c3"><rect x="359.7" y="333.4" width="274.90" height="267.40"/></clipPath>
<path clip-path="url(#c3)" d="M476.4 347.2h0M495.1 349.6h0M465.6 352.0h0M476.4 354.4h0M480.4 358.2h0M479.3 359.8h0M492.0 359.0h0M491.1 360.6h0M486.5 366.8h0M488.9 370.8h0M468.0 367.6h0M456.2 368.9h0M461.8 376.5h0M462.9 378.2h0M466.4 376.8h0M440.0 378.2h0M414.6 382.7h0M420.7 386.1h0M443.3 382.7h0M437.7 385.4h0M455.4 382.9h0M479.6 382.1h0M499.0 383.8h0M444.8 388.6h0M457.0 391.3h0M454.6 392.4h0M495.1 392.1h0M438.2 394.5h0M439.8 396.1h0M447.4 394.5h0M450.2 396.1h0M460.2 398.5h0M466.4 397.7h0M470.1 397.7h0M474.8 398.5h0M444.8 402.4h0M427.6 404.5h0M451.0 404.4h0M472.8 403.7h0M482.5 405.3h0M491.9 407.1h0M461.8 408.3h0M441.7 408.3h0M436.9 410.1h0M440.9 411.5h0M456.2 414.6h0M440.0 416.9h0M459.4 422.8h0M472.0 423.0h0M415.9 424.9h0M432.3 426.8h0M452.6 426.8h0M468.8 426.8h0M532.0 349.8h0M548.2 349.8h0M530.6 356.8h0M561.5 359.1h0M571.7 359.8h0M507.5 369.0h0M521.2 371.4h0M512.7 376.2h0M503.5 378.2h0M504.3 385.2h0M529.6 382.9h0M535.2 382.1h0M519.6 387.6h0M505.1 404.5h0M517.5 408.5h0M505.9 414.6h0M509.1 417.7h0M526.0 415.7h0M449.3 430.8h0M460.1 431.6h0M433.0 434.8h0M433.8 438.4h0M441.6 440.8h0M414.6 443.2h0M452.4 447.8h0M454.0 449.9h0M456.4 451.0h0M421.4 454.0h0M443.9 461.1h0M455.5 462.6h0M450.1 464.1h0M416.8 465.7h0M441.6 470.4h0M450.1 474.3h0M423.8 475.1h0M456.3 476.5h0M410.6 483.3h0M458.5 483.3h0M429.8 488.3h0M464.9 489.1h0M433.8 495.6h0M448.5 495.0h0M467.1 499.6h0M429.8 504.2h0M429.8 507.4h0M422.2 507.6h0M419.0 509.6h0M420.0 519.2h0M404.4 522.0h0M413.8 520.8h0M413.0 524.0h0M435.2 525.2h0M478.4 521.4h0M505.6 437.6h0M508.8 440.2h0M519.0 436.4h0M502.8 466.6h0M486.4 470.4h0M488.8 484.3h0M511.2 484.3h0M484.1 497.5h0M503.4 505.2h0M410.5 529.1h0M413.7 533.1h0M429.9 534.5h0M415.3 540.1h0M420.1 542.3h0M422.4 542.3h0M426.4 541.5h0M433.1 542.3h0M440.1 543.9h0M409.2 547.9h0M439.2 549.9h0M403.8 565.7h0M441.6 566.3h0M443.9 572.4h0M411.6 572.4h0M399.0 576.2h0M399.0 581.0h0M412.1 581.0h0M414.0 580.2h0M435.5 578.1h0M391.4 583.4h0M423.2 587.4h0M425.6 587.4h0M428.8 587.4h0M439.2 587.4h0M442.8 587.4h0M447.9 587.4h0M505.0 531.5h0M478.7 539.4h0M458.6 540.7h0M466.3 553.8h0M467.2 568.6h0M477.1 570.2h0M517.4 569.4h0M496.5 574.9h0M454.8 578.8h0M488.9 578.0h0M487.3 584.8h0M453.5 587.4h0M455.1 587.4h0M458.3 587.4h0M459.9 587.4h0M464.7 587.4h0M468.7 587.4h0M470.2 587.4h0M471.9 587.4h0M473.8 587.4h0M485.4 587.4h0M488.6 587.4h0M494.5 587.4h0M500.2 587.4h0M503.7 587.4h0M506.6 587.4h0M520.4 587.4h0M522.0 587.4h0M538.7 587.4h0M359.7 587.5h0M362.0 587.5h0M364.1 587.5h0M366.0 587.5h0M367.7 587.5h0M369.4 587.5h0M370.9 587.5h0M372.4 587.5h0M373.7 587.5h0M375.0 587.5h0M376.2 587.5h0M377.4 587.5h0M378.5 587.5h0M379.6 587.5h0M380.6 587.5h0M381.6 587.5h0M382.5 587.5h0M383.4 587.5h0M384.3 587.5h0M385.1 587.5h0M385.9 587.5h0M386.7 587.5h0M387.5 587.5h0M388.2 587.5h0M388.9 587.5h0M390.3 587.5h0M391.6 587.5h0M392.8 587.5h0M394.0 587.5h0M395.1 587.5h0M396.1 587.5h0M397.1 587.5h0M398.1 587.5h0M399.1 587.5h0M400.0 587.5h0M400.8 587.5h0M401.7 587.5h0M402.5 587.5h0M403.3 587.5h0M404.0 587.5h0M404.8 587.5h0M405.5 587.5h0M406.5 587.5h0M407.5 587.5h0M408.4 587.5h0M409.4 587.5h0M410.2 587.5h0M411.1 587.5h0M411.9 587.5h0M412.7 587.5h0M413.5 587.5h0M414.2 587.5h0M414.9 587.5h0M415.8 587.5h0M416.7 587.5h0M417.6 587.5h0M418.4 587.5h0" fill="none" stroke="#3877b0" stroke-width="4.5" stroke-linecap="round"/>
<rect x="359.7" y="333.4" width="274.90" height="267.40" fill="none" stroke="#333333" stroke-width="0.75"/>
<path d="M359.70 600.8v2.7M414.68 600.8v2.7M469.66 600.8v2.7M524.64 600.8v2.7M579.62 600.8v2.7M634.60 600.8v2.7M359.7 587.50h-2.7M359.7 539.48h-2.7M359.7 491.46h-2.7M359.7 443.44h-2.7M359.7 395.42h-2.7M359.7 347.40h-2.7" stroke="#333333" stroke-width="0.7" fill="none"/>
<path d="M376.25 600.8v1.5M385.93 600.8v1.5M392.80 600.8v1.5M398.13 600.8v1.5M402.48 600.8v1.5M406.16 600.8v1.5M409.35 600.8v1.5M412.16 600.8v1.5M431.23 600.8v1.5M440.91 600.8v1.5M447.78 600.8v1.5M453.11 600.8v1.5M457.46 600.8v1.5M461.14 600.8v1.5M464.33 600.8v1.5M467.14 600.8v1.5M486.21 600.8v1.5M495.89 600.8v1.5M502.76 600.8v1.5M508.09 600.8v1.5M512.44 600.8v1.5M516.12 600.8v1.5M519.31 600.8v1.5M522.12 600.8v1.5M541.19 600.8v1.5M550.87 600.8v1.5M557.74 600.8v1.5M563.07 600.8v1.5M567.42 600.8v1.5M571.10 600.8v1.5M574.29 600.8v1.5M577.10 600.8v1.5M596.17 600.8v1.5M605.85 600.8v1.5M612.72 600.8v1.5M618.05 600.8v1.5M622.40 600.8v1.5M626.08 600.8v1.5M629.27 600.8v1.5M632.08 600.8v1.5" stroke="#333333" stroke-width="0.5" fill="none"/>
<text x="353.70" y="590.40" font-size="8.6" text-anchor="end" textLength="11.49" lengthAdjust="spacingAndGlyphs">0.0</text>
<text x="353.70" y="542.38" font-size="8.6" text-anchor="end" textLength="11.49" lengthAdjust="spacingAndGlyphs">0.2</text>
<text x="353.70" y="494.36" font-size="8.6" text-anchor="end" textLength="11.49" lengthAdjust="spacingAndGlyphs">0.4</text>
<text x="353.70" y="446.34" font-size="8.6" text-anchor="end" textLength="11.49" lengthAdjust="spacingAndGlyphs">0.6</text>
<text x="353.70" y="398.32" font-size="8.6" text-anchor="end" textLength="11.49" lengthAdjust="spacingAndGlyphs">0.8</text>
<text x="353.70" y="350.30" font-size="8.6" text-anchor="end" textLength="11.49" lengthAdjust="spacingAndGlyphs">1.0</text>
<text x="353.06" y="614.20" font-size="8.6" text-anchor="start" textLength="9.84" lengthAdjust="spacingAndGlyphs">10</text>
<text x="363.10" y="611.30" font-size="6.11" text-anchor="start" textLength="3.49" lengthAdjust="spacingAndGlyphs">1</text>
<text x="408.04" y="614.20" font-size="8.6" text-anchor="start" textLength="9.84" lengthAdjust="spacingAndGlyphs">10</text>
<text x="418.08" y="611.30" font-size="6.11" text-anchor="start" textLength="3.49" lengthAdjust="spacingAndGlyphs">2</text>
<text x="463.02" y="614.20" font-size="8.6" text-anchor="start" textLength="9.84" lengthAdjust="spacingAndGlyphs">10</text>
<text x="473.06" y="611.30" font-size="6.11" text-anchor="start" textLength="3.49" lengthAdjust="spacingAndGlyphs">3</text>
<text x="518.00" y="614.20" font-size="8.6" text-anchor="start" textLength="9.84" lengthAdjust="spacingAndGlyphs">10</text>
<text x="528.04" y="611.30" font-size="6.11" text-anchor="start" textLength="3.49" lengthAdjust="spacingAndGlyphs">4</text>
<text x="572.98" y="614.20" font-size="8.6" text-anchor="start" textLength="9.84" lengthAdjust="spacingAndGlyphs">10</text>
<text x="583.02" y="611.30" font-size="6.11" text-anchor="start" textLength="3.49" lengthAdjust="spacingAndGlyphs">5</text>
<text x="627.96" y="614.20" font-size="8.6" text-anchor="start" textLength="9.84" lengthAdjust="spacingAndGlyphs">10</text>
<text x="638.00" y="611.30" font-size="6.11" text-anchor="start" textLength="3.49" lengthAdjust="spacingAndGlyphs">6</text>
<text x="497.15" y="625.70" font-size="8.2" text-anchor="middle" textLength="135.39" lengthAdjust="spacingAndGlyphs">Entity instances in training dataset</text>
<text x="497.15" y="328.80" font-size="10.1" text-anchor="middle" textLength="119.23" lengthAdjust="spacingAndGlyphs">Pharmacologic Substance</text>
<text x="336.20" y="467.10" font-size="8.2" text-anchor="middle" textLength="183.91" lengthAdjust="spacingAndGlyphs" transform="rotate(-90 336.20 467.10)">Recall on testing dataset using distant labelling</text>
</svg>
</body></html>
